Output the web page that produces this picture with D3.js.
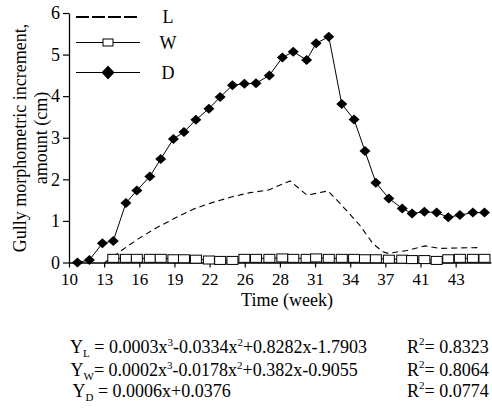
<!DOCTYPE html>
<html><head><meta charset="utf-8">
<script src="https://cdn.jsdelivr.net/npm/d3@7"></script>
<style>
body{margin:0;background:#fff}
svg{display:block}
svg text{font-family:'Liberation Serif','Times New Roman',Times,'DejaVu Serif',serif;fill:#000}
</style>
</head><body>
<svg id="c" width="492" height="410"></svg>
<script>
// ---- data (x given as position along the evenly spaced week axis; 0 = "10", 1 = "13", ...)
const xTickLabels = ["10","13","16","19","22","26","28","31","34","37","41","43"];
const yTicks = [0,1,2,3,4,5,6];

const dPos = [0.24,0.58,0.95,1.26,1.62,1.93,2.30,2.61,2.97,3.27,3.61,3.98,4.30,4.65,4.99,5.32,5.70,6.07,6.38,6.76,7.03,7.39,7.76,8.11,8.42,8.73,9.10,9.48,9.76,10.11,10.46,10.79,11.12,11.49,11.82];
const dValues = [0,0.06,0.46,0.52,1.43,1.73,2.07,2.49,2.97,3.14,3.43,3.70,3.98,4.26,4.30,4.31,4.50,4.93,5.07,4.87,5.27,5.43,3.81,3.44,2.68,1.92,1.54,1.30,1.18,1.22,1.20,1.09,1.14,1.20,1.20];

const wPos = [1.26,1.62,1.93,2.30,2.61,2.97,3.27,3.61,3.98,4.30,4.65,4.99,5.32,5.70,6.07,6.38,6.76,7.03,7.39,7.76,8.11,8.42,8.73,9.10,9.48,9.76,10.11,10.46,10.79,11.12,11.49,11.82];
const wValues = [0.10,0.10,0.10,0.10,0.10,0.09,0.09,0.08,0.06,0.05,0.05,0.10,0.10,0.10,0.11,0.10,0.10,0.11,0.10,0.10,0.10,0.09,0.09,0.08,0.08,0.07,0.07,0.05,0.09,0.10,0.10,0.10];

const lPos = [1.02,1.51,1.99,2.48,3.02,3.53,4.07,4.64,5.15,5.66,6.29,6.77,7.37,7.71,8.28,8.65,8.93,9.08,9.62,10.13,10.55,11.69];
const lValues = [0,0.30,0.58,0.83,1.07,1.28,1.44,1.58,1.68,1.74,1.96,1.62,1.72,1.42,0.89,0.45,0.26,0.22,0.29,0.40,0.34,0.36];

const seriesNames = ["L","W","D"];
const yTitleLines = ["Gully morphometric increment,","amount (cm)"];
const xTitle = "Time (week)";
const equationParts = [
  [["Y",""],["L","sub"],[" = 0.0003x",""],["3","sup"],["-0.0334x",""],["2","sup"],["+0.8282x-1.7903",""]],
  [["Y",""],["W","sub"],["= 0.0002x",""],["3","sup"],["-0.0178x",""],["2","sup"],["+0.382x-0.9055",""]],
  [["Y",""],["D","sub"],[" = 0.0006x+0.0376",""]]
];
const rSquared = ["0.8323","0.8064","0.0774"];

// ---- drawing
const FONT = "'Liberation Serif','Times New Roman',Times,'DejaVu Serif',serif";
const svg = d3.select("#c").attr("font-family",FONT);
const x = d3.scaleLinear().domain([0,12]).range([69,490.8]);
const y = d3.scaleLinear().domain([0,6]).range([262.5,13]);

// axes
const xAxis = d3.axisBottom(x).tickValues(d3.range(xTickLabels.length))
  .tickFormat(i => xTickLabels[i]).tickSize(5).tickSizeOuter(0);
const gx = svg.append("g").attr("transform",`translate(0,${y(0)})`).call(xAxis).attr("font-family",FONT);
gx.select(".domain").attr("stroke","#000").attr("stroke-width",1.3);
gx.selectAll(".tick line").attr("stroke","#000").attr("stroke-width",1.2);
gx.selectAll(".tick text").attr("font-size",17).attr("fill","#000").attr("dy","0.85em");

const yAxis = d3.axisLeft(y).tickValues(yTicks).tickFormat(d3.format("d")).tickSize(6).tickSizeOuter(0);
const gy = svg.append("g").attr("transform",`translate(${x(0)},0)`).call(yAxis).attr("font-family",FONT);
gy.select(".domain").attr("stroke","#000").attr("stroke-width",1.3);
gy.selectAll(".tick line").attr("stroke","#000").attr("stroke-width",1.2);
gy.selectAll(".tick text").attr("font-size",18).attr("fill","#000").attr("x",-9);

// axis titles
const yt = svg.append("text").attr("transform","translate(26,138) rotate(-90)")
  .attr("text-anchor","middle").attr("font-size",18);
yt.append("tspan").attr("x",0).attr("y",0).text(yTitleLines[0]);
yt.append("tspan").attr("x",0).attr("y",21).text(yTitleLines[1]);
svg.append("text").attr("x",287).attr("y",306).attr("text-anchor","middle").attr("font-size",18).text(xTitle);

// L dashed line
const lData = lPos.map((p,i)=>[p,lValues[i]]);
svg.append("path").datum(lData)
  .attr("d", d3.line().x(d=>x(d[0])).y(d=>y(d[1])))
  .attr("fill","none").attr("stroke","#000").attr("stroke-width",1.1).attr("stroke-dasharray","6,4");

// W line + squares
const wData = wPos.map((p,i)=>[p,wValues[i]]);
svg.append("path").datum(wData)
  .attr("d", d3.line().x(d=>x(d[0])).y(d=>y(d[1])))
  .attr("fill","none").attr("stroke","#000").attr("stroke-width",1);
svg.append("g").selectAll("rect").data(wData).join("rect")
  .attr("x",d=>x(d[0])-5.5).attr("y",d=>y(d[1])-4).attr("width",11).attr("height",8)
  .attr("fill","#fff").attr("stroke","#000").attr("stroke-width",1);

// D line + diamonds
const dData = dPos.map((p,i)=>[p,dValues[i]]);
svg.append("path").datum(dData)
  .attr("d", d3.line().x(d=>x(d[0])).y(d=>y(d[1])))
  .attr("fill","none").attr("stroke","#000").attr("stroke-width",1);
const diamond = (cx,cy,w,h)=>`M${cx},${cy-h/2}L${cx+w/2},${cy}L${cx},${cy+h/2}L${cx-w/2},${cy}Z`;
svg.append("g").selectAll("path").data(dData).join("path")
  .attr("d",d=>diamond(x(d[0]),y(d[1]),11,10)).attr("fill","#000");

// legend
const legY = [17,42.5,72.5];
const lg = svg.append("g");
seriesNames.forEach((name,i)=>{
  const ln = lg.append("line").attr("x1",76).attr("x2",140).attr("y1",legY[i]).attr("y2",legY[i]).attr("stroke","#000");
  if(name==="L"){ ln.attr("stroke-width",2).attr("stroke-dasharray","13,3"); }
  else ln.attr("stroke-width",1);
  if(name==="W") lg.append("rect").attr("x",103).attr("y",legY[i]-3.5).attr("width",10).attr("height",7).attr("fill","#fff").attr("stroke","#000");
  if(name==="D") lg.append("path").attr("d",diamond(108,legY[i],13,14)).attr("fill","#000");
  lg.append("text").attr("x",168).attr("y",legY[i]+6).attr("text-anchor","middle").attr("font-size",18).text(name);
});

// equations
const eqY = [353,376,397];
const eqX = [70,70.5,72.5];
equationParts.forEach((parts,i)=>{
  const t = svg.append("text").attr("x",eqX[i]).attr("y",eqY[i]).attr("font-size",18);
  let shift = 0;
  parts.forEach(([s,type])=>{
    const target = type==="sub"?4:type==="sup"?-7:0;
    const ts = t.append("tspan").attr("dy",target-shift).text(s);
    if(type) ts.attr("font-size",11);
    shift = target;
  });
  const r = svg.append("text").attr("x",407).attr("y",eqY[i]).attr("font-size",18);
  r.append("tspan").text("R");
  r.append("tspan").attr("font-size",11).attr("dy",-8).text("2");
  r.append("tspan").attr("dy",8).text("= "+rSquared[i]);
});
</script>
</body></html>
